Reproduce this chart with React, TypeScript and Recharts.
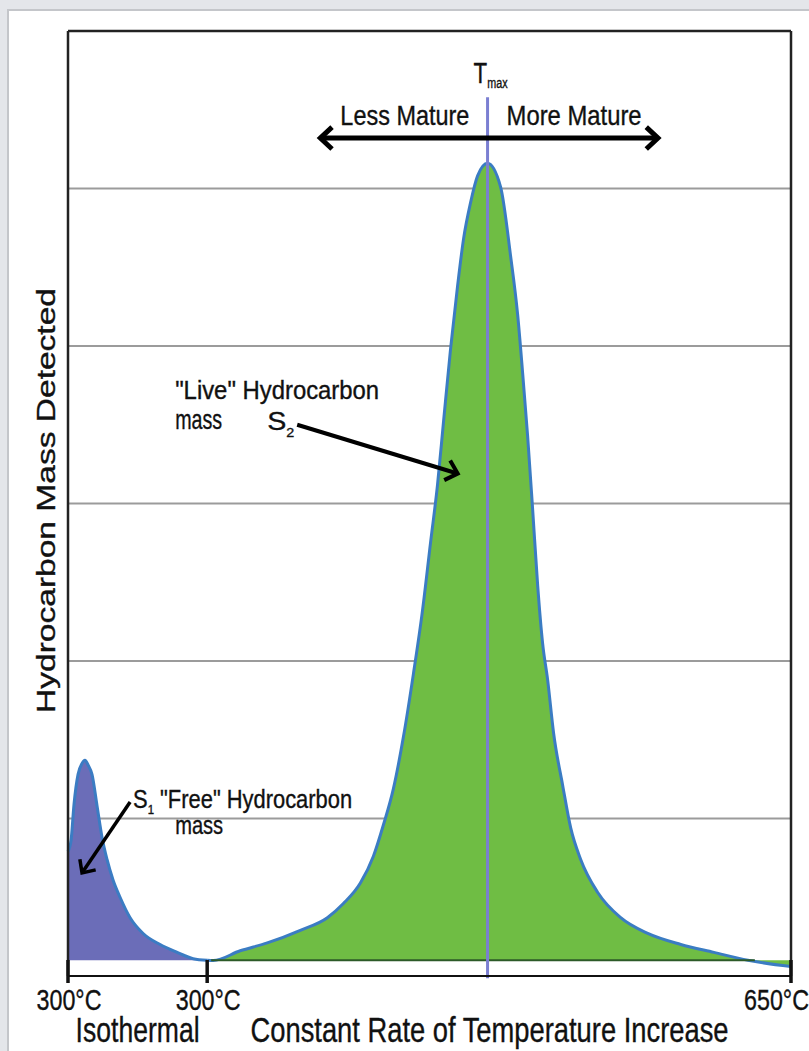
import React from 'react';
import {
  ComposedChart,
  Area,
  XAxis,
  YAxis,
  CartesianGrid,
  ReferenceLine,
  ReferenceDot,
} from 'recharts';

const FONT = '"Liberation Sans", Arial, Helvetica, sans-serif';

// run position, % of the analysis (0 = start of the 300°C isothermal step)
const s1Time = [0, 0.42, 0.83, 1.39, 1.94, 2.35, 2.77, 3.32, 4.02, 4.71, 5.4, 6.23, 7.2, 8.59, 10.39, 12.74, 15.1, 17.31, 19.25];
const s1Signal = [0.79, 0.86, 1.09, 1.28, 1.35, 1.37, 1.34, 1.28, 1.08, 0.88, 0.74, 0.61, 0.5, 0.37, 0.27, 0.2, 0.15, 0.11, 0.1];

const s2Time = [
  19.25, 20.08, 23.82, 27.56, 32.13, 35.87, 38.09, 40.44, 42.24, 43.63,
  45.01, 46.4, 47.78, 49.03, 50.14, 51.11, 51.94, 52.91, 53.88, 54.71,
  55.68, 56.65, 58.03, 59.83, 61.22, 62.19, 62.88, 63.57, 64.27, 64.96,
  65.65, 66.34, 67.17, 68.42, 69.53, 70.91, 73.27, 76.45, 80.19, 84.76,
  89.34, 94.04, 100,
];
const s2Signal = [
  0.1, 0.098, 0.16, 0.21, 0.29, 0.37, 0.46, 0.59, 0.76, 0.96,
  1.19, 1.52, 1.92, 2.32, 2.75, 3.12, 3.52, 3.98, 4.38, 4.68,
  4.91, 5.08, 5.16, 5.01, 4.57, 4.2, 3.83, 3.43, 2.96, 2.48,
  2.11, 1.88, 1.54, 1.21, 0.94, 0.74, 0.53, 0.37, 0.27, 0.2,
  0.15, 0.1, 0.06,
];

const tempTicks = [0, 19.25, 100];
const tempLabels = ['300°C', '300°C', '650°C'];
const massTicks = [0, 1, 2, 3, 4, 5, 6];
const tmax = 58.03;
const baseSignal = 0.1;

const data = [
  ...s1Time.map((t, i) => ({ t, s1: s1Signal[i], s2: null })),
  ...s2Time.map((t, i) => ({ t, s1: null, s2: s2Signal[i] })),
];

function Txt({ x, y, size, len, anchor = 'start', children }: any) {
  return (
    <text
      x={x}
      y={y}
      fontSize={size}
      fontFamily={FONT}
      fill="#111"
      stroke="#111"
      strokeWidth={0.35}
      textAnchor={anchor}
      textLength={len}
      lengthAdjust="spacingAndGlyphs"
    >
      {children}
    </text>
  );
}

function chevron(x: number, y: number, a: number, L: number) {
  const s = 0.75;
  const ax = x - L * Math.cos(a - s);
  const ay = y - L * Math.sin(a - s);
  const bx = x - L * Math.cos(a + s);
  const by = y - L * Math.sin(a + s);
  return `M${ax},${ay} L${x},${y} L${bx},${by}`;
}

const arrow = (both: boolean, w: number, L: number) => (p: any) => {
  const { x1, y1, x2, y2 } = p;
  const a = Math.atan2(y2 - y1, x2 - x1);
  const back = both ? chevron(x1, y1, a + Math.PI, L) : '';
  return (
    <g>
      <line x1={x1} y1={y1} x2={x2 - Math.cos(a) * 2} y2={y2 - Math.sin(a) * 2} stroke="#000" strokeWidth={w} />
      <path d={chevron(x2, y2, a, L) + ' ' + back} fill="none" stroke="#000" strokeWidth={w} />
    </g>
  );
};

const note = (size: number, len: number, content: React.ReactNode) => (p: any) => (
  <Txt x={p.cx} y={p.cy} size={size} len={len}>
    {content}
  </Txt>
);

const renderNone = () => <g />;

const renderTempTick = (p: any) => {
  const { x, y, payload } = p;
  const i = tempTicks.indexOf(payload.value);
  const last = i === tempTicks.length - 1;
  return (
    <g>
      <line x1={x} x2={x} y1={y - 16} y2={y + 7} stroke="#111" strokeWidth={3.5} />
      <Txt x={last ? x + 18 : x + 1} y={y + 34} size={29} len={65} anchor={last ? 'end' : 'middle'}>
        {tempLabels[i]}
      </Txt>
    </g>
  );
};

const renderXTitles = (p: any) => {
  const { x, y, width } = p.viewBox;
  return (
    <g>
      <Txt x={x + width * 0.0963} y={y + 66} size={35} len={124} anchor="middle">
        Isothermal
      </Txt>
      <Txt x={x + width * 0.583} y={y + 66} size={35} len={478} anchor="middle">
        Constant Rate of Temperature Increase
      </Txt>
    </g>
  );
};

const renderYTitle = (p: any) => {
  const { y, height } = p.viewBox;
  return (
    <text
      transform={`translate(55, ${y + height / 2 - 3}) rotate(-90)`}
      textAnchor="middle"
      fontSize={26.5}
      fontFamily={FONT}
      fill="#111"
      stroke="#111"
      strokeWidth={0.35}
      textLength={425}
      lengthAdjust="spacingAndGlyphs"
    >
      Hydrocarbon Mass Detected
    </text>
  );
};

export default function App() {
  return (
    <div
      style={{
        position: 'absolute',
        left: 0,
        top: 0,
        width: 809,
        height: 1051,
        background: '#e4e6ea',
        overflow: 'hidden',
      }}
    >
      <div
        style={{
          position: 'absolute',
          left: 7,
          top: 9,
          width: 840,
          height: 1080,
          background: '#fff',
          borderLeft: '2px solid #c4c6ca',
          borderTop: '2px solid #c4c6ca',
        }}
      />
      <div style={{ position: 'absolute', left: 0, top: 0 }}>
        <ComposedChart
          width={809}
          height={1051}
          data={data}
          margin={{ top: 31, right: 18, bottom: 0, left: 0 }}
        >
          <CartesianGrid horizontal vertical={false} stroke="#9b9b9b" strokeWidth={2} />
          <XAxis
            type="number"
            dataKey="t"
            domain={[0, 100]}
            ticks={tempTicks}
            interval={0}
            height={75}
            tickSize={0}
            tickMargin={0}
            tickLine={false}
            axisLine={{ stroke: '#111', strokeWidth: 2 }}
            tick={renderTempTick}
            label={{ content: renderXTitles }}
          />
          <YAxis
            width={68}
            domain={[0, 6]}
            ticks={massTicks}
            interval={0}
            tick={renderNone}
            tickLine={false}
            axisLine={{ stroke: '#222', strokeWidth: 2.5 }}
            label={{ content: renderYTitle }}
          />
          <Area
            type="monotone"
            dataKey="s1"
            baseValue={baseSignal}
            stroke="#3b7cc3"
            strokeWidth={3}
            fill="#6b6db8"
            fillOpacity={1}
            dot={false}
            activeDot={false}
            isAnimationActive={false}
          />
          <Area
            type="monotone"
            dataKey="s2"
            baseValue={baseSignal}
            stroke="#3b7cc3"
            strokeWidth={3}
            fill="#6fbd44"
            fillOpacity={1}
            dot={false}
            activeDot={false}
            isAnimationActive={false}
          />
          <ReferenceLine
            segment={[{ x: 19.8, y: baseSignal }, { x: 95, y: baseSignal }]}
            stroke="#2c5a28"
            strokeWidth={2}
          />
          <ReferenceLine y={6} stroke="#222" strokeWidth={2.5} />
          <ReferenceLine x={100} stroke="#222" strokeWidth={2.5} />
          <ReferenceLine
            segment={[{ x: tmax, y: 5.58 }, { x: tmax, y: -0.015 }]}
            stroke="#7b7fd2"
            strokeWidth={3}
            ifOverflow="visible"
          />
          <ReferenceLine
            segment={[{ x: 34.9, y: 5.32 }, { x: 81.6, y: 5.32 }]}
            shape={arrow(true, 5, 16)}
          />
          <ReferenceLine
            segment={[{ x: 31.7, y: 3.5 }, { x: 53.9, y: 3.19 }]}
            shape={arrow(false, 4, 15)}
          />
          <ReferenceLine
            segment={[{ x: 8.59, y: 1.105 }, { x: 1.94, y: 0.654 }]}
            shape={arrow(false, 3.5, 14)}
          />
          <ReferenceDot
            x={56.09}
            y={5.67}
            r={0}
            ifOverflow="visible"
            shape={note(29, 34, <>T<tspan fontSize={14} dy={5}>max</tspan></>)}
          />
          <ReferenceDot x={37.67} y={5.403} r={0} shape={note(28, 129, 'Less Mature')} />
          <ReferenceDot x={60.66} y={5.403} r={0} shape={note(28, 135, 'More Mature')} />
          <ReferenceDot x={14.82} y={3.663} r={0} shape={note(25, 204, '"Live" Hydrocarbon')} />
          <ReferenceDot x={14.82} y={3.473} r={0} shape={note(28, 47, 'mass')} />
          <ReferenceDot
            x={27.56}
            y={3.467}
            r={0}
            shape={note(26, 27, <>S<tspan fontSize={13} dy={7}>2</tspan></>)}
          />
          <ReferenceDot
            x={9.0}
            y={1.067}
            r={0}
            shape={note(
              25,
              219,
              <>
                S<tspan fontSize={13} dy={6}>1</tspan>
                <tspan dy={-6}> "Free" Hydrocarbon</tspan>
              </>
            )}
          />
          <ReferenceDot x={14.82} y={0.902} r={0} shape={note(25, 48, 'mass')} />
        </ComposedChart>
      </div>
    </div>
  );
}
